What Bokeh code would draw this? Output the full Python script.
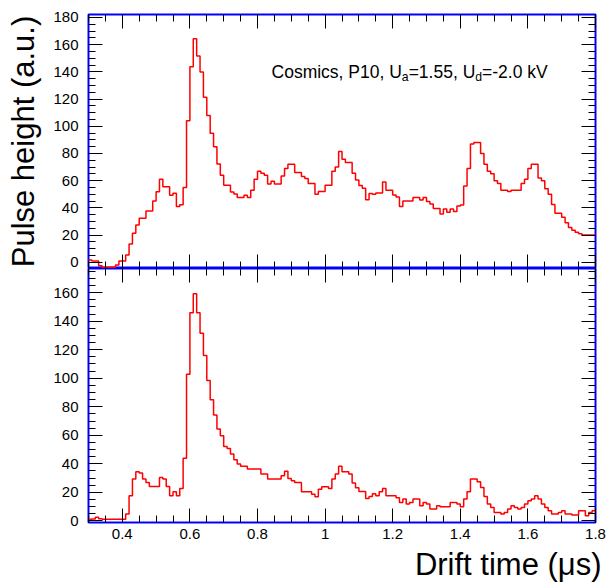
import numpy as np
from bokeh.plotting import figure
from bokeh.models import Range1d, LinearAxis, FixedTicker, Label, PrintfTickFormatter, Title
from bokeh.layouts import column
from bokeh.embed import file_html
from bokeh.resources import INLINE

# ---------------- data ----------------
bin_start = 0.30
bin_width = 0.01

top_counts = [
    1.7, 1.0, 1.0, -2.5, -3.7, -3.7, -3.7, -3.7, -2.0, 1.0,
    1.0, 5.3, 13.4, 21.3, 27.4, 32.3, 32.3, 37.7, 37.7, 45.0,
    51.9, 61.0, 55.6, 55.6, 49.2, 50.7, 41.0, 42.3, 55.0, 104.0,
    143.8, 164.4, 151.6, 139.9, 121.3, 108.0, 94.8, 85.0, 72.3, 63.9,
    56.6, 56.6, 51.7, 50.2, 47.7, 47.7, 49.2, 47.7, 53.0, 61.0,
    67.0, 65.5, 64.0, 57.5, 59.5, 57.5, 57.5, 63.4, 69.0, 72.0,
    72.0, 66.0, 66.0, 63.0, 61.5, 58.0, 58.0, 50.0, 52.0, 52.0,
    56.7, 56.7, 67.0, 70.0, 81.5, 75.7, 73.4, 73.4, 65.4, 60.5,
    56.5, 54.5, 46.0, 50.5, 50.0, 51.0, 51.0, 59.0, 53.0, 53.0,
    49.5, 48.0, 41.0, 45.0, 45.0, 45.0, 47.7, 47.7, 45.8, 47.7,
    44.6, 42.8, 39.6, 39.6, 35.5, 39.2, 36.7, 39.2, 37.4, 41.4,
    42.1, 56.0, 69.0, 87.0, 88.0, 88.0, 80.0, 72.0, 67.0, 65.0,
    60.0, 58.0, 53.0, 53.0, 52.0, 53.0, 53.0, 53.0, 58.0, 61.0,
    69.0, 72.0, 72.0, 62.0, 60.0, 54.0, 50.0, 42.5, 36.0, 36.0,
    33.0, 29.0, 25.5, 23.5, 22.0, 21.0, 20.0, 20.0, 20.0, 20.0,
]

bottom_counts = [
    1.0, 1.2, 2.5, 1.5, 1.0, 1.0, 1.0, 1.0, 1.0, 1.0,
    1.0, 4.7, 17.6, 29.3, 34.4, 33.5, 29.3, 26.9, 24.1, 24.1,
    24.1, 30.4, 29.3, 24.1, 17.6, 20.4, 17.6, 22.7, 43.8, 102.8,
    145.9, 159.3, 145.9, 131.6, 115.9, 98.4, 85.0, 74.2, 64.4, 59.7,
    52.2, 50.8, 46.8, 42.9, 39.8, 38.2, 38.2, 36.3, 36.3, 36.3,
    36.3, 32.8, 32.8, 29.3, 29.3, 29.3, 29.3, 31.6, 34.7, 29.7,
    28.1, 26.9, 26.9, 20.4, 20.4, 20.4, 18.7, 16.9, 22.2, 23.9,
    23.9, 22.7, 29.3, 32.8, 38.2, 34.4, 34.4, 32.8, 26.5, 23.2,
    20.6, 20.6, 15.7, 17.1, 19.0, 17.6, 20.4, 22.7, 17.6, 17.6,
    17.6, 16.2, 12.9, 15.2, 11.7, 12.9, 15.2, 15.2, 10.5, 12.9,
    11.7, 8.2, 8.2, 10.5, 9.8, 9.8, 9.8, 12.9, 12.9, 11.7,
    9.8, 15.2, 20.4, 29.3, 29.3, 27.4, 23.4, 17.1, 11.7, 9.4,
    5.9, 5.9, 4.7, 5.9, 8.2, 10.5, 9.4, 8.2, 9.4, 11.7,
    14.1, 15.2, 17.6, 15.2, 11.7, 9.4, 7.0, 4.7, 4.7, 5.9,
    7.0, 4.7, 4.7, 4.0, 4.0, 7.0, 7.0, 3.5, 5.9, 7.0,
]

x_major_ticks = [0.4, 0.6, 0.8, 1.0, 1.2, 1.4, 1.6, 1.8]
x_minor_ticks = [0.30, 0.35, 0.40, 0.45, 0.50, 0.55, 0.60, 0.65, 0.70, 0.75,
                 0.80, 0.85, 0.90, 0.95, 1.00, 1.05, 1.10, 1.15, 1.20, 1.25,
                 1.30, 1.35, 1.40, 1.45, 1.50, 1.55, 1.60, 1.65, 1.70, 1.75, 1.80]
top_y_ticks = [0, 20, 40, 60, 80, 100, 120, 140, 160, 180]
bottom_y_ticks = [0, 20, 40, 60, 80, 100, 120, 140, 160]
y_minor_ticks = list(range(-5, 185, 5))

y_title = "Pulse height (a.u.)"
x_title = "Drift time (\u03bcs)"
note_parts = ["Cosmics, P10, U", "a", "=1.55, U", "d", "=-2.0 kV"]

# ---------------- style ----------------
FONT = "Liberation Sans"
x_range = Range1d(0.3, 1.8)
edges = bin_start + bin_width * np.arange(len(top_counts) + 1)


def style_axis(ax, ticker, show_labels, standoff):
    ax.ticker = ticker
    ax.axis_line_color = None
    ax.major_tick_in = 14
    ax.major_tick_out = 0
    ax.minor_tick_in = 7
    ax.minor_tick_out = 0
    ax.major_tick_line_color = "black"
    ax.minor_tick_line_color = "black"
    ax.major_tick_line_width = 1
    ax.minor_tick_line_width = 1
    if show_labels:
        ax.formatter = PrintfTickFormatter(format="%g")
        ax.major_label_text_font = FONT
        ax.major_label_text_font_size = "15px"
        ax.major_label_text_color = "black"
        ax.major_label_standoff = standoff
    else:
        ax.major_label_text_font_size = "0px"
        ax.major_label_text_color = None
        ax.major_label_standoff = 0


def panel(y_lo, y_hi, y_ticks, counts, border_top, border_bottom, show_x_labels):
    p = figure(x_range=x_range, y_range=Range1d(y_lo, y_hi),
               frame_width=507, frame_height=254,
               min_border_left=88, min_border_right=19,
               min_border_top=border_top, min_border_bottom=border_bottom,
               output_backend="svg", toolbar_location=None)
    p.background_fill_color = "white"
    p.border_fill_color = "white"
    p.grid.visible = False
    p.outline_line_color = "#0000ff"
    p.outline_line_width = 2

    xt = FixedTicker(ticks=x_major_ticks, minor_ticks=x_minor_ticks)
    yt = FixedTicker(ticks=y_ticks, minor_ticks=y_minor_ticks)
    style_axis(p.xaxis[0], xt, show_x_labels, 6)
    style_axis(p.yaxis[0], yt, True, 10)

    top_ax = LinearAxis()
    style_axis(top_ax, FixedTicker(ticks=x_major_ticks, minor_ticks=x_minor_ticks), False, 0)
    p.add_layout(top_ax, "above")
    right_ax = LinearAxis()
    style_axis(right_ax, FixedTicker(ticks=y_ticks, minor_ticks=y_minor_ticks), False, 0)
    p.add_layout(right_ax, "right")

    yvals = list(counts) + [counts[-1]]
    p.step(edges, yvals, mode="after", line_color="#ff0000", line_width=1.5)
    return p


p1 = panel(-4.6, 182.2, top_y_ticks, top_counts, 14, 0, False)
p1.yaxis[0].axis_label = y_title
p1.yaxis[0].axis_label_text_font = FONT
p1.yaxis[0].axis_label_text_font_size = "31px"
p1.yaxis[0].axis_label_text_font_style = "normal"
p1.yaxis[0].axis_label_text_color = "black"
p1.yaxis[0].axis_label_standoff = 9

# annotation with subscripts
note_x = 0.8415
note_y = 139.6
offsets = [0, 130.3, 137.1, 203.7, 210.5]
for i, (txt, off) in enumerate(zip(note_parts, offsets)):
    sub = (i % 2 == 1)
    p1.add_layout(Label(x=note_x, y=note_y, x_offset=off, y_offset=-5 if sub else 0,
                        text=txt, text_font=FONT,
                        text_font_size="12.25px" if sub else "17.5px",
                        text_color="black", text_align="left",
                        text_baseline="alphabetic"))

p2 = panel(-1.2, 177.0, bottom_y_ticks, bottom_counts, 0, 64, True)
p2.add_layout(Title(text=x_title, align="right", offset=-6, standoff=7,
                    text_font=FONT, text_font_size="31px",
                    text_font_style="normal", text_color="black"), "below")

layout = column(p1, p2, spacing=0)
open("out.html", "w").write(file_html(layout, INLINE))
